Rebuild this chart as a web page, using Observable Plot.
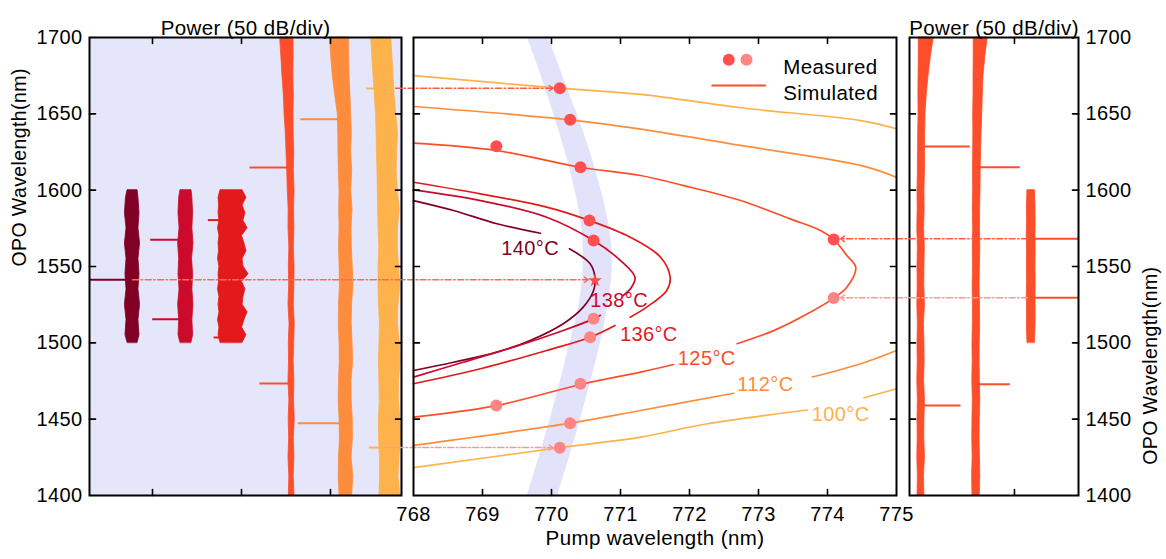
<!DOCTYPE html>
<html><head><meta charset="utf-8">
<script src="https://cdn.jsdelivr.net/npm/d3@7"></script>
<script src="https://cdn.jsdelivr.net/npm/@observablehq/plot@0.6"></script>
<style>
html,body{margin:0;padding:0;background:#fff;}
#chart{position:relative;width:1166px;height:559px;}
#chart svg{position:absolute;left:0;top:0;overflow:visible;}
#chart svg text{letter-spacing:0.4px;}
</style></head><body><div id="chart"></div>
<script>
// ---------- categories & colours ----------
const temps = ["140°C","138°C","136°C","125°C","112°C","100°C"];
const tempColors = ["#800026","#cc0a2b","#e31a1c","#fc4e2a","#fd8d3c","#feb24c"];
const yTicksAll = [1400,1450,1500,1550,1600,1650,1700];
const yTicksInner = [1450,1500,1550,1600,1650];
const pumpTicks = [768,769,770,771,772,773,774,775];
const pumpTicksInner = [769,770,771,772,773,774];

// ---------- middle panel: simulated tuning curves [pump nm, OPO nm]; null = gap ----------
const sim140 = [[768,1593.2],[768.58,1586.7],[769.21,1578],[769.84,1571.8],null,[770.26,1561.6],[770.56,1551.8],[770.63,1543],[770.61,1534.3],[770.46,1523.4],[770.17,1512.5],[769.69,1501.5],[769.21,1493.9],[768.58,1487.3],[768,1481.9]];
const sim138 = [[768,1600.2],[768.97,1593.2],[769.93,1582.3],[770.61,1567],[771,1553.9],[771.21,1543],[771.16,1536.4],[771.04,1531],null,[770.71,1518],[770.61,1515.7],[770.17,1508.1],[769.45,1497.2],[768.72,1487.3],[768,1477.5]];
const sim136 = [[768,1605.2],[768.97,1597.6],[769.93,1588.9],[770.55,1580.1],[771.14,1569.2],[771.58,1556.1],[771.72,1543],[771.67,1534.3],[771.38,1523.4],[771.14,1516.8],null,[770.92,1511.4],[770.56,1503.7],[769.93,1495],[768.97,1483],[768,1473.2]];
const sim125 = [[768,1630.8],[769.2,1626],[770.42,1615],[771.29,1609.6],[771.92,1603],[772.74,1593.2],[773.46,1581.2],[773.9,1573.6],[774.09,1567.7],[774.28,1557.2],[774.41,1549.5],[774.28,1536.4],[774.09,1529.3],[773.71,1519],[773.22,1508],[772.69,1499.4],null,[771.77,1485.8],[771.29,1480.8],[770.42,1472.7],[769.2,1458.9],[768,1451.3]];
const sim112 = [[768,1654.8],[770.27,1646.1],[771.29,1640],[772.74,1629.3],[774.48,1616.2],[775,1608.5],null,[768,1432.8],[770.27,1447.4],[771.29,1455.7],[772.64,1467],null,[773.78,1477.6],[774.48,1486.3],[775,1495]];
const sim100 = [[768,1675],[770.12,1666.8],[771.29,1662.7],[772.74,1654],[774.48,1645.6],[775,1640.2],null,[768,1418.2],[770.12,1431.3],[771.29,1438.2],[772.26,1447],[773.71,1456],null,[774.53,1464],[775,1469.9]];
const simCurves = [sim140, sim138, sim136, sim125, sim112, sim100];

// temperature labels [pump, OPO]
const labelPos = [[769.69,1561.5],[770.98,1527.5],[771.41,1505.5],[772.25,1489.7],[773.10,1472.7],[774.19,1453]];

// measured points [pump, OPO]
const measuredSignal = [[770.12,1666.8],[770.27,1646.1],[769.2,1628.8],[770.42,1615],[770.55,1580.1],[770.61,1567],[774.09,1567.7]];
const measuredIdler  = [[770.61,1515.7],[770.56,1503.7],[770.42,1473.2],[769.2,1458.9],[770.27,1447.4],[770.12,1431.3],[774.09,1529.3]];
const degenerate = [[770.63,1540.8]];

// phase-matching band [OPO, pump low, pump high]
const band = [[1400,769.65,770.09],[1425,769.82,770.26],[1450,769.98,770.42],[1475,770.13,770.57],[1500,770.27,770.71],[1525,770.40,770.82],[1550,770.46,770.88],[1575,770.44,770.84],[1600,770.34,770.72],[1625,770.20,770.56],[1650,770.03,770.37],[1675,769.85,770.16],[1700,769.65,769.96]];

// dash-dot guides [from pump, to pump, OPO, branch]
const guides = [[767.74,770.12,1666.8,"signal"],[763.93,770.63,1541.3,"deg"],[767.59,770.12,1431.4,"idler"],[776.90,774.09,1568.1,"signal"],[776.90,774.09,1529.5,"idler"]];

// ---------- left panel spectra [OPO nm, low dB, high dB] (power offset, 50 dB/div) ----------
const left140 = [[1500,108.4,114.0],[1505,107.3,115.2],[1515,107.9,114.6],[1525,107.0,115.5],[1535,107.9,114.6],[1545,107.3,115.2],[1555,107.9,114.6],[1565,107.0,115.5],[1575,107.9,114.6],[1585,107.3,115.5],[1595,107.9,114.9],[1600,108.4,114.0]];
const left138 = [[1500,78.1,84.3],[1505,77.2,85.4],[1515,77.6,85.0],[1525,77.0,85.6],[1535,77.6,84.8],[1545,77.2,85.4],[1555,77.8,85.0],[1565,77.0,85.6],[1575,77.6,84.8],[1585,77.2,85.4],[1595,77.6,85.0],[1600,78.1,84.3]];
const shortWl = [1500,1505,1510,1515,1520,1525,1530,1535,1540,1545,1550,1555,1560,1565,1570,1575,1580,1585,1590,1595,1600];
const left136Lo = [49.4,47.2,49.7,48.3,46.6,49.4,48.9,47.8,49.7,46.0,48.9,49.4,47.2,48.3,49.7,46.6,48.9,47.8,49.4,47.2,49.4];
const left136Hi = [61.8,62.9,62.4,63.2,62.4,62.9,62.4,63.2,62.6,62.9,62.4,63.2,62.6,62.9,62.4,63.2,62.4,62.9,62.6,62.9,61.8];
const longWl = [1400,1412.5,1425,1437.5,1450,1462.5,1475,1487.5,1500,1512.5,1525,1537.5,1550,1562.5,1575,1587.5,1600,1612.5,1625,1637.5,1650,1662.5,1675,1687.5,1700];
const left125Lo = [20.2,20.7,20.3,20.6,20.1,20.5,20.3,20.7,20.4,20.1,20.6,20.3,20.2,20.6,20.3,20.5,20.2,20.6,20.4,20.7,20.8,20.6,20.9,20.7,20.8];
const left125Hi = [23.4,23.1,23.6,23.2,23.5,23.1,23.6,23.3,23.4,23.0,23.6,23.2,23.4,23.1,23.6,23.5,24.0,24.3,24.7,25.1,25.8,26.2,27.0,27.6,28.3];
const left112Lo = [-12.2,-12.8,-11.8,-12.6,-12.5,-11.9,-11.8,-12.7,-12.4,-11.9,-12.1,-12.9,-12.5,-12.0,-11.8,-12.4,-11.6,-12.2,-11.6,-12.0,-11.6,-11.2,-10.7,-10.5,-10.3];
const left112Hi = [-5.1,-4.6,-4.8,-5.3,-5.1,-4.6,-4.8,-5.2,-5.1,-4.7,-4.8,-5.3,-5.1,-4.8,-5.1,-4.9,-5.1,-4.7,-4.5,-4.4,-4.1,-2.6,-1.3,-0.4,0.2];
const left100Lo = [-39.3,-38.2,-38.8,-39.6,-39.3,-38.4,-38.5,-39.4,-39.0,-37.9,-38.2,-39.2,-38.5,-37.8,-37.9,-38.9,-37.8,-37.2,-37.4,-37.9,-36.9,-36.0,-35.4,-34.8,-34.1];
const left100Hi = [-27.5,-27.9,-27.8,-27.3,-27.2,-27.7,-27.5,-27.2,-27.5,-27.8,-27.2,-27.0,-27.0,-27.4,-27.0,-26.8,-26.6,-26.4,-26.1,-25.9,-25.6,-24.9,-24.2,-23.5,-22.9];
const leftFloor = [111, 81, 56, 22, -8, -32];
const leftPeaks = [["140°C",1541.3,140.5],["138°C",1567.5,101.3],["138°C",1515.5,100.2],["136°C",1580.4,68.9],["136°C",1503.5,65.7],["125°C",1614.8,45.5],["125°C",1473.4,39.9],["112°C",1646.5,17.0],["112°C",1447.4,18.4],["100°C",1666.6,-20.1],["100°C",1431.4,-21.5]];

// ---------- right panel spectra (125 °C, pumps 769.2 / 770.4 / 774.1 nm) ----------
const rightALo = [-54.5,-54.3,-54.6,-54.4,-54.5,-54.3,-54.6,-54.4,-54.5,-54.3,-54.6,-54.4,-54.5,-54.3,-54.6,-54.4,-54.5,-54.3,-54.2,-54.1,-53.9,-54.0,-53.9,-53.8,-53.8];
const rightAHi = [-50.6,-50.9,-50.3,-50.7,-50.6,-50.3,-50.8,-50.5,-50.6,-50.9,-50.3,-50.7,-50.6,-50.4,-50.8,-50.5,-50.6,-50.3,-50.3,-50.2,-50.0,-49.3,-48.3,-47.0,-45.3];
const rightBLo = [-23.6,-23.8,-23.5,-23.7,-23.6,-23.4,-23.7,-23.5,-23.6,-23.4,-23.3,-23.5,-23.3,-23.4,-23.2,-23.4,-23.2,-23.3,-23.2,-23.1,-23.2,-23.0,-23.0,-22.9,-22.9];
const rightBHi = [-19.5,-19.2,-19.4,-19.6,-19.5,-19.2,-19.4,-19.6,-19.5,-19.3,-19.4,-19.6,-19.4,-19.2,-19.4,-19.3,-19.1,-19.0,-18.8,-18.5,-18.1,-17.8,-17.4,-16.4,-15.0];
const rightC = [[1500,7.3,11.5],[1510,7.0,11.8],[1520,7.1,11.9],[1530,6.9,11.8],[1540,7.1,11.9],[1550,7.0,11.8],[1560,7.1,11.9],[1570,6.9,11.8],[1580,7.1,11.9],[1590,7.0,11.8],[1600,7.3,11.5]];
const rightNames = ["769.2 nm","770.4 nm","774.1 nm"];
const rightFloor = [-52, -21, 9];
const rightPeaks = [["769.2 nm",1628.6,-25.1],["769.2 nm",1459,-30.3],["770.4 nm",1615,3.0],["770.4 nm",1472.9,-2.6],["774.1 nm",1568.1,40],["774.1 nm",1529.5,40]];

// ---------- build tables ----------
const curveRows = simCurves.flatMap((c, i) => c.map(p => p ? {temp: temps[i], pump: p[0], opo: p[1]} : {temp: temps[i], pump: NaN, opo: NaN}));
const labelRows = labelPos.map((p, i) => ({temp: temps[i], pump: p[0], opo: p[1]}));
const bandRows = band.map(([opo, lo, hi]) => ({opo, lo, hi}));
const guideRows = guides.map(([from, to, opo, branch]) => ({from, to, opo, branch}));
const zipWl = (wls, lo, hi) => wls.map((wl, i) => [wl, lo[i], hi[i]]);
const leftSets = [left140, left138, zipWl(shortWl, left136Lo, left136Hi), zipWl(longWl, left125Lo, left125Hi), zipWl(longWl, left112Lo, left112Hi), zipWl(longWl, left100Lo, left100Hi)];
const leftRows = leftSets.flatMap((s, i) => s.map(([wl, lo, hi]) => ({temp: temps[i], wl, lo, hi})));
const leftPeakRows = leftPeaks.map(([temp, wl, p]) => ({temp, wl, power: p, base: leftFloor[temps.indexOf(temp)]}));
const rightSets = [zipWl(longWl, rightALo, rightAHi), zipWl(longWl, rightBLo, rightBHi), rightC];
const rightRows = rightSets.flatMap((s, i) => s.map(([wl, lo, hi]) => ({name: rightNames[i], wl, lo, hi})));
const rightPeakRows = rightPeaks.map(([name, wl, p]) => ({name, wl, power: p, base: rightFloor[rightNames.indexOf(name)]}));

// ---------- styling helpers ----------
const FONT = "'Liberation Sans', Arial, Helvetica, sans-serif";
const W = 1166, H = 559;
const common = {width: W, height: H, marginTop: 37, marginBottom: 64,
  style: {background: "transparent", fontFamily: FONT, fontSize: "20px", color: "black", overflow: "visible"}};
const tickShape = {draw(ctx, l) { ctx.moveTo(0, 0); ctx.lineTo(0, -l); }};
const tk = {length: 6, anchor: "start", shape: tickShape, stroke: "black", strokeWidth: 1.6};
function inTicks(xs, ys) {
  return [
    Plot.vector(xs, {x: d => d, frameAnchor: "bottom", rotate: 0, ...tk}),
    Plot.vector(xs, {x: d => d, frameAnchor: "top", rotate: 180, ...tk}),
    Plot.vector(ys, {y: d => d, frameAnchor: "left", rotate: 90, ...tk}),
    Plot.vector(ys, {y: d => d, frameAnchor: "right", rotate: -90, ...tk})
  ];
}
const chevronR = {draw(ctx, size) { const r = Math.sqrt(size / Math.PI); ctx.moveTo(-r, -r * 0.75); ctx.lineTo(0, 0); ctx.lineTo(-r, r * 0.75); }};
const chevronL = {draw(ctx, size) { const r = Math.sqrt(size / Math.PI); ctx.moveTo(r, -r * 0.75); ctx.lineTo(0, 0); ctx.lineTo(r, r * 0.75); }};
const branchColor = {signal: "#ff5a3c", deg: "#ff6a50", idler: "#ff9696"};
const dotSignal = "#ff4f4f", dotIdler = "#ff8585";
const titleText = "Power (50 dB/div)";
const yLabel = "OPO Wavelength(nm)";

const chart = document.getElementById("chart");

// ---------- left panel ----------
const left = Plot.plot({
  ...common, marginLeft: 89, marginRight: W - 401,
  x: {domain: [-39.9, 135.4], reverse: true, axis: null},
  y: {domain: [1400, 1700]},
  color: {domain: temps, range: tempColors},
  marks: [
    Plot.frame({fill: "#e6e6fa"}),
    Plot.areaX(leftRows, {y: "wl", x1: "lo", x2: "hi", z: "temp", fill: "temp", stroke: "temp", strokeWidth: 0.8}),
    Plot.link(leftPeakRows, {x1: "base", x2: "power", y1: "wl", y2: "wl", stroke: "temp", strokeWidth: 2, clip: true}),
    Plot.frame({stroke: "black", strokeWidth: 2}),
    ...inTicks([0, 50, 100], yTicksInner),
    Plot.axisY({anchor: "left", ticks: yTicksAll, tickSize: 0, tickPadding: 7, tickFormat: d => String(d), label: null, fontSize: 20}),
    Plot.text([titleText], {frameAnchor: "top", dy: -17, text: d => d, fontSize: 20.5}),
    Plot.text([yLabel], {frameAnchor: "left", dx: -70, rotate: -90, text: d => d, fontSize: 19.5})
  ]
});
chart.appendChild(left);

// ---------- right panel ----------
const right = Plot.plot({
  ...common, marginLeft: 909, marginRight: W - 1078,
  x: {domain: [-59, 36], axis: null},
  y: {domain: [1400, 1700]},
  marks: [
    Plot.areaX(rightRows, {y: "wl", x1: "lo", x2: "hi", z: "name", fill: "#fc4e2a", stroke: "#fc4e2a", strokeWidth: 0.8}),
    Plot.link(rightPeakRows, {x1: "base", x2: "power", y1: "wl", y2: "wl", stroke: "#fc4e2a", strokeWidth: 2, clip: true}),
    Plot.frame({stroke: "black", strokeWidth: 2}),
    ...inTicks([0], yTicksInner),
    Plot.axisY({anchor: "right", ticks: yTicksAll, tickSize: 0, tickPadding: 7, tickFormat: d => String(d), label: null, fontSize: 20}),
    Plot.text([titleText], {frameAnchor: "top", dy: -17, text: d => d, fontSize: 20.5}),
    Plot.text([yLabel], {frameAnchor: "right", dx: 72, rotate: -90, text: d => d, fontSize: 19.5})
  ]
});
chart.appendChild(right);

// ---------- middle panel ----------
const guideMarks = guideRows.map(g => Plot.arrow([g], {x1: "from", x2: "to", y1: "opo", y2: "opo", stroke: branchColor[g.branch], strokeWidth: 1.5, headLength: 0, insetEnd: 7, strokeDasharray: "6,2.5,1.5,2.5"}));
const headMarks = guideRows.map(g => Plot.dot([g], {x: "to", y: "opo", symbol: g.to > g.from ? chevronR : chevronL, r: 4, dx: g.to > g.from ? -7 : 7, stroke: branchColor[g.branch], fill: "none", strokeWidth: 1.4}));

const middle = Plot.plot({
  ...common, marginLeft: 413, marginRight: W - 896,
  x: {domain: [768, 775]},
  y: {domain: [1400, 1700], axis: null},
  color: {domain: temps, range: tempColors},
  marks: [
    Plot.areaX(bandRows, {y: "opo", x1: "lo", x2: "hi", fill: "#e2e2fa", curve: "natural"}),
    Plot.line(curveRows, {x: "pump", y: "opo", z: "temp", stroke: "temp", strokeWidth: 1.7, curve: "catmull-rom"}),
    ...guideMarks,
    ...headMarks,
    Plot.dot(measuredSignal, {x: d => d[0], y: d => d[1], r: 6, fill: dotSignal}),
    Plot.dot(measuredIdler, {x: d => d[0], y: d => d[1], r: 6, fill: dotIdler}),
    Plot.dot(degenerate, {x: d => d[0], y: d => d[1], r: 4.3, symbol: "star", fill: "#ff4a4a"}),
    Plot.text(labelRows, {x: "pump", y: "opo", text: "temp", fill: "temp", fontSize: 20}),
    // legend
    Plot.dot(["Measured"], {frameAnchor: "top-right", dx: -167.7, dy: 22.3, r: 6, fill: dotSignal}),
    Plot.dot(["Measured"], {frameAnchor: "top-right", dx: -150, dy: 22.3, r: 6, fill: dotIdler}),
    Plot.vector(["Simulated"], {frameAnchor: "top-right", dx: -184.3, dy: 48, rotate: 90, length: 53, anchor: "start", shape: tickShape, stroke: "#fc4e2a", strokeWidth: 2}),
    Plot.text(["Measured"], {frameAnchor: "top-right", dx: -113.3, dy: 22.3, text: d => d, textAnchor: "start", fontSize: 20.5}),
    Plot.text(["Simulated"], {frameAnchor: "top-right", dx: -113.3, dy: 48, text: d => d, textAnchor: "start", fontSize: 20.5}),
    Plot.frame({stroke: "black", strokeWidth: 2}),
    ...inTicks(pumpTicksInner, yTicksInner),
    Plot.axisX({anchor: "bottom", ticks: pumpTicks, tickSize: 0, tickPadding: 11, tickFormat: d => String(d), label: null, fontSize: 20}),
    Plot.text(["Pump wavelength (nm)"], {frameAnchor: "bottom", dy: 49, text: d => d, fontSize: 20.5})
  ]
});
chart.appendChild(middle);
</script></body></html>
